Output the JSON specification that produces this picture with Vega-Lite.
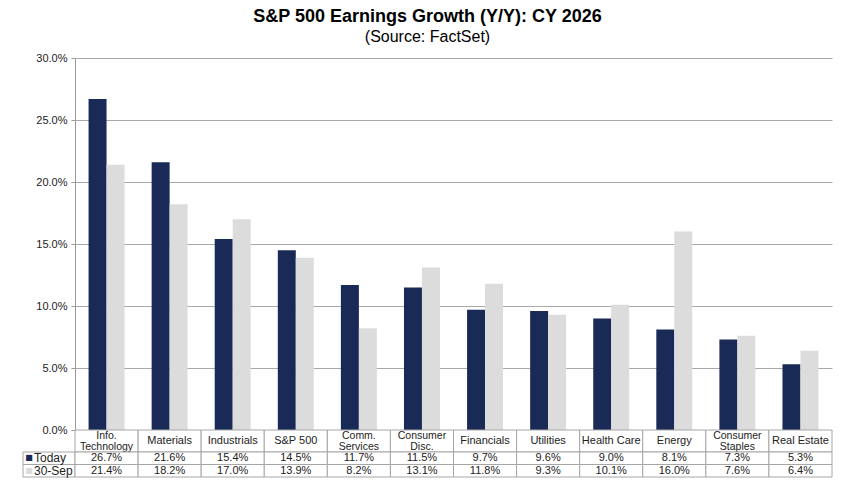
{
  "$schema": "https://vega.github.io/schema/vega-lite/v6.json",
  "padding": {"left": 22, "top": 8, "right": 18, "bottom": 6},
  "title": {
    "text": "S&P 500 Earnings Growth (Y/Y): CY 2026",
    "subtitle": "(Source: FactSet)",
    "anchor": "middle",
    "font": "Liberation Sans",
    "fontSize": 18,
    "fontWeight": "bold",
    "color": "#000000",
    "subtitleFont": "Liberation Sans",
    "subtitleFontSize": 16,
    "subtitleColor": "#000000",
    "subtitlePadding": 3,
    "offset": 7
  },
  "data": {
    "values": [
      {"category": "Info.\nTechnology", "series": "Today", "value": 0.267},
      {"category": "Materials", "series": "Today", "value": 0.216},
      {"category": "Industrials", "series": "Today", "value": 0.154},
      {"category": "S&P 500", "series": "Today", "value": 0.145},
      {"category": "Comm.\nServices", "series": "Today", "value": 0.117},
      {"category": "Consumer\nDisc.", "series": "Today", "value": 0.115},
      {"category": "Financials", "series": "Today", "value": 0.097},
      {"category": "Utilities", "series": "Today", "value": 0.096},
      {"category": "Health Care", "series": "Today", "value": 0.090},
      {"category": "Energy", "series": "Today", "value": 0.081},
      {"category": "Consumer\nStaples", "series": "Today", "value": 0.073},
      {"category": "Real Estate", "series": "Today", "value": 0.053},
      {"category": "Info.\nTechnology", "series": "30-Sep", "value": 0.214},
      {"category": "Materials", "series": "30-Sep", "value": 0.182},
      {"category": "Industrials", "series": "30-Sep", "value": 0.170},
      {"category": "S&P 500", "series": "30-Sep", "value": 0.139},
      {"category": "Comm.\nServices", "series": "30-Sep", "value": 0.082},
      {"category": "Consumer\nDisc.", "series": "30-Sep", "value": 0.131},
      {"category": "Financials", "series": "30-Sep", "value": 0.118},
      {"category": "Utilities", "series": "30-Sep", "value": 0.093},
      {"category": "Health Care", "series": "30-Sep", "value": 0.101},
      {"category": "Energy", "series": "30-Sep", "value": 0.160},
      {"category": "Consumer\nStaples", "series": "30-Sep", "value": 0.076},
      {"category": "Real Estate", "series": "30-Sep", "value": 0.064}
    ]
  },
  "columns": 2,
  "spacing": 0,
  "bounds": "flush",
  "concat": [
    {
      "width": 52,
      "height": 372,
      "transform": [{"filter": "false"}],
      "mark": "rect",
      "encoding": {}
    },
    {
      "width": 757,
      "height": 372,
      "mark": "bar",
      "encoding": {
        "x": {
          "field": "category",
          "type": "nominal",
          "sort": null,
          "scale": {"paddingInner": 0.43, "paddingOuter": 0.215},
          "axis": null
        },
        "xOffset": {
          "field": "series",
          "type": "nominal",
          "scale": {"domain": ["Today", "30-Sep"], "paddingInner": 0, "paddingOuter": 0}
        },
        "y": {
          "field": "value",
          "type": "quantitative",
          "title": null,
          "scale": {"domain": [0, 0.3], "nice": false},
          "axis": {
            "values": [0, 0.05, 0.1, 0.15, 0.2, 0.25, 0.3],
            "format": ".1%",
            "labelFont": "Liberation Sans",
            "labelFontSize": 11,
            "labelColor": "#222222",
            "labelPadding": 4,
            "tickSize": 4,
            "tickColor": "#9a9a9a",
            "domainColor": "#9a9a9a",
            "gridColor": "#a8a8a8",
            "grid": true
          }
        },
        "color": {
          "field": "series",
          "type": "nominal",
          "scale": {"domain": ["Today", "30-Sep"], "range": ["#1a2a56", "#dcdcdc"]},
          "legend": null
        }
      }
    },
    {
      "width": 52,
      "height": 22,
      "transform": [{"filter": "false"}],
      "mark": "rect",
      "encoding": {}
    },
    {
      "width": 757,
      "height": 22,
      "transform": [{"filter": "datum.series == 'Today'"}],
      "encoding": {
        "x": {
          "field": "category",
          "type": "nominal",
          "sort": null,
          "scale": {"paddingInner": 0, "paddingOuter": 0},
          "axis": null
        }
      },
      "layer": [
        {"mark": {"type": "rect", "fill": "#ffffff", "stroke": "#a6a6a6", "strokeWidth": 1}},
        {
          "transform": [{"filter": "indexof(datum.category, '\\n') < 0"}],
          "mark": {"type": "text", "font": "Liberation Sans", "fontSize": 11, "baseline": "middle", "color": "#222222"},
          "encoding": {"text": {"field": "category"}}
        },
        {
          "transform": [{"filter": "indexof(datum.category, '\\n') >= 0"}],
          "mark": {"type": "text", "font": "Liberation Sans", "fontSize": 10.5, "lineBreak": "\n", "lineHeight": 11, "baseline": "middle", "dy": -5.5, "color": "#222222"},
          "encoding": {"text": {"field": "category"}}
        }
      ]
    },
    {
      "width": 52,
      "height": 25,
      "transform": [{"filter": "datum.category == 'S&P 500'"}],
      "encoding": {
        "y": {
          "field": "series",
          "type": "nominal",
          "scale": {"domain": ["Today", "30-Sep"], "paddingInner": 0, "paddingOuter": 0},
          "axis": null
        }
      },
      "layer": [
        {"mark": {"type": "rect", "fill": "#ffffff", "stroke": "#a6a6a6", "strokeWidth": 1}},
        {
          "mark": {"type": "text", "text": "■", "font": "DejaVu Sans", "fontSize": 8, "align": "center", "baseline": "middle", "dx": -20},
          "encoding": {
            "color": {
              "field": "series",
              "type": "nominal",
              "scale": {"domain": ["Today", "30-Sep"], "range": ["#1a2a56", "#dcdcdc"]},
              "legend": null
            }
          }
        },
        {
          "mark": {"type": "text", "font": "Liberation Sans", "fontSize": 12, "align": "left", "baseline": "middle", "dx": -15, "color": "#222222"},
          "encoding": {"text": {"field": "series"}}
        }
      ]
    },
    {
      "width": 757,
      "height": 25,
      "encoding": {
        "x": {
          "field": "category",
          "type": "nominal",
          "sort": null,
          "scale": {"paddingInner": 0, "paddingOuter": 0},
          "axis": null
        },
        "y": {
          "field": "series",
          "type": "nominal",
          "scale": {"domain": ["Today", "30-Sep"], "paddingInner": 0, "paddingOuter": 0},
          "axis": null
        }
      },
      "layer": [
        {"mark": {"type": "rect", "fill": "#ffffff", "stroke": "#a6a6a6", "strokeWidth": 1}},
        {
          "mark": {"type": "text", "font": "Liberation Sans", "fontSize": 11, "baseline": "middle", "color": "#222222"},
          "encoding": {"text": {"field": "value", "format": ".1%"}}
        }
      ]
    }
  ],
  "resolve": {"scale": {"x": "independent", "y": "independent", "color": "shared"}},
  "config": {
    "view": {"stroke": null},
    "background": "#ffffff"
  }
}
